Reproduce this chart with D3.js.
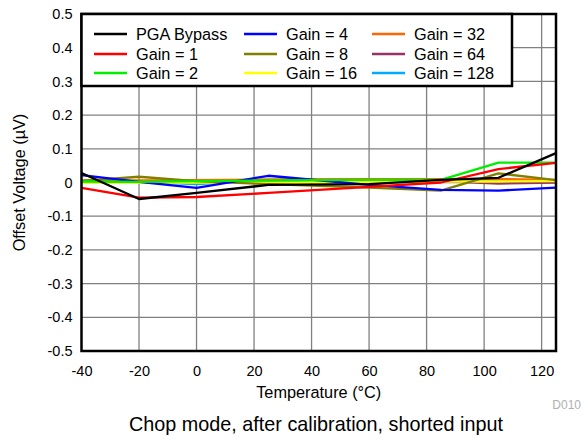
<!DOCTYPE html>
<html><head><meta charset="utf-8">
<script src="https://cdn.jsdelivr.net/npm/d3@7"></script>
<style>body{margin:0;background:#fff}svg{display:block;font-family:"Liberation Sans",Arial,sans-serif}</style>
</head><body><svg id="c" width="588" height="440"></svg>
<script>
const temps = [-40, -20, 0, 25, 60, 85, 105, 125];
const seriesNames = ["PGA Bypass","Gain = 1","Gain = 2","Gain = 4","Gain = 8","Gain = 16","Gain = 32","Gain = 64","Gain = 128"];
const seriesColors = ["#000000","#ff0000","#00ee00","#0000ff","#808000","#ffff00","#ff6600","#993366","#00aaff"];
const pgaBypass = [0.028, -0.049, -0.031, -0.007, -0.005, 0.008, 0.014, 0.087];
const gain1     = [-0.016, -0.045, -0.043, -0.031, -0.013, 0.000, 0.040, 0.058];
const gain2     = [0.003, 0.002, 0.004, 0.006, 0.008, 0.008, 0.059, 0.059];
const gain4     = [0.022, 0.002, -0.016, 0.020, -0.007, -0.022, -0.024, -0.015];
const gain8     = [0.005, 0.017, 0.004, -0.005, -0.015, -0.024, 0.027, 0.007];
const gain16    = [0.000, 0.000, 0.000, 0.000, 0.002, 0.003, 0.003, 0.004];
const gain32    = [0.006, 0.006, 0.007, 0.009, 0.010, 0.010, 0.010, 0.008];
const gain64    = [0.003, 0.003, 0.003, 0.004, 0.004, 0.004, -0.003, 0.000];
const gain128   = [0.003, 0.002, -0.005, 0.007, 0.009, 0.010, 0.006, 0.004];
const allSeries = [pgaBypass, gain1, gain2, gain4, gain8, gain16, gain32, gain64, gain128];
const xTicks = [-40, -20, 0, 20, 40, 60, 80, 100, 120];
const yTicks = [-0.5, -0.4, -0.3, -0.2, -0.1, 0, 0.1, 0.2, 0.3, 0.4, 0.5];

const svg = d3.select("#c");
const L = 81.5, R = 556, T = 14, B = 351;
const x = d3.scaleLinear().domain([-40, 125]).range([L, R]);
const y = d3.scaleLinear().domain([-0.5, 0.5]).range([B, T]);
const hy = s => s.replace("\u2212", "-");

// grid
const g = svg.append("g");
g.selectAll(".vx").data(xTicks.slice(1)).join("line")
  .attr("x1", d => x(d)).attr("x2", d => x(d)).attr("y1", T).attr("y2", B)
  .attr("stroke", "#808080").attr("stroke-width", 1.3);
g.selectAll(".hy").data(yTicks.slice(1, -1)).join("line")
  .attr("x1", L).attr("x2", R).attr("y1", d => y(d)).attr("y2", d => y(d))
  .attr("stroke", "#808080").attr("stroke-width", 1.3);

// axes labels via d3 axes
const xAxis = svg.append("g").attr("transform", `translate(0,${B})`)
  .call(d3.axisBottom(x).tickValues(xTicks).tickSize(0).tickPadding(15).tickFormat(d => hy(String(d))));
xAxis.select(".domain").remove();
xAxis.selectAll("text").attr("font-size", 14.5).attr("fill", "#000").attr("font-family", "Liberation Sans, Arial, sans-serif");
const yAxis = svg.append("g").attr("transform", `translate(${L},0)`)
  .call(d3.axisLeft(y).tickValues(yTicks).tickSize(0).tickPadding(9).tickFormat(d => d === 0 ? "0" : hy(d3.format(".1f")(d))));
yAxis.select(".domain").remove();
yAxis.selectAll("text").attr("font-size", 14.5).attr("fill", "#000").attr("font-family", "Liberation Sans, Arial, sans-serif");

// lines
const line = d3.line().x((d, i) => x(temps[i])).y(d => y(d));
const order = [8, 7, 6, 5, 4, 3, 2, 1, 0];
svg.append("g").selectAll("path").data(order).join("path")
  .attr("d", i => line(allSeries[i]))
  .attr("fill", "none").attr("stroke", i => seriesColors[i]).attr("stroke-width", 2.3)
  .attr("stroke-linejoin", "round");

// plot border
svg.append("rect").attr("x", L).attr("y", T).attr("width", R - L).attr("height", B - T)
  .attr("fill", "none").attr("stroke", "#000").attr("stroke-width", 2.5);

// legend
const lg = svg.append("g");
lg.append("rect").attr("x", L).attr("y", T).attr("width", 512 - L).attr("height", 86 - T)
  .attr("fill", "#fff").attr("stroke", "#000").attr("stroke-width", 2.5);
const colX = [94, 244, 372];
const rowY = [34, 54, 73];
seriesNames.forEach((name, i) => {
  const c = Math.floor(i / 3), r = i % 3;
  lg.append("line").attr("x1", colX[c]).attr("x2", colX[c] + 33).attr("y1", rowY[r]).attr("y2", rowY[r])
    .attr("stroke", seriesColors[i]).attr("stroke-width", 2.3);
  lg.append("text").attr("x", colX[c] + 42).attr("y", rowY[r]).attr("dy", "0.35em")
    .attr("font-size", 16.3).text(name);
});

// titles
svg.append("text").attr("x", x(42.5)).attr("y", 398).attr("text-anchor", "middle")
  .attr("font-size", 16.3).text("Temperature (°C)");
svg.append("text").attr("transform", `translate(25,${y(0)}) rotate(-90)`).attr("text-anchor", "middle")
  .attr("font-size", 16.3).text("Offset Voltage (µV)");
svg.append("text").attr("x", 581).attr("y", 409).attr("text-anchor", "end")
  .attr("font-size", 12).attr("fill", "#b0b0b0").text("D010");
svg.append("text").attr("x", 316).attr("y", 431).attr("text-anchor", "middle")
  .attr("font-size", 19.8).text("Chop mode, after calibration, shorted input");
</script></body></html>
